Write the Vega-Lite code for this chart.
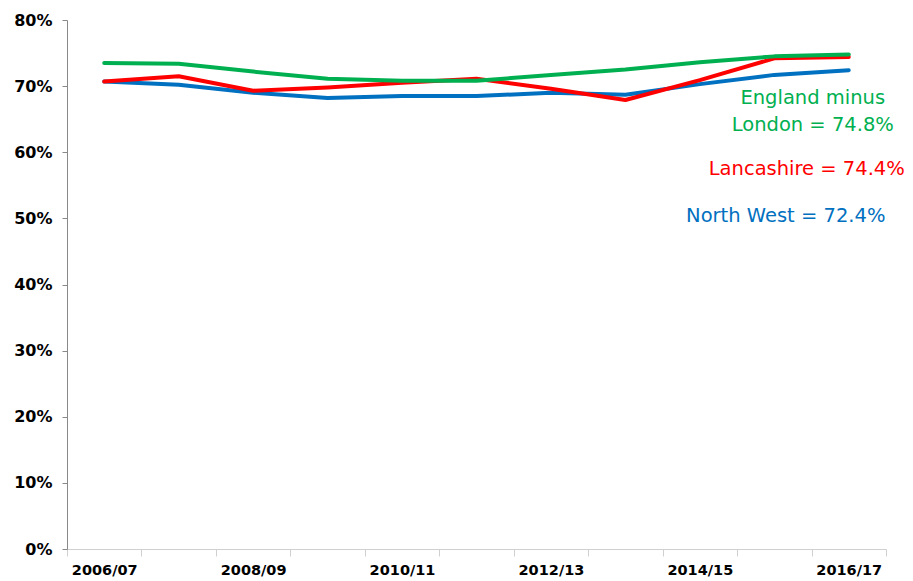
{
  "$schema": "https://vega.github.io/schema/vega-lite/v6.json",
  "width": 819,
  "height": 529,
  "autosize": {"type": "none"},
  "padding": {"left": 67, "top": 20, "right": 27, "bottom": 32},
  "background": "white",
  "title": {
    "text": "Employment rate of all working age (16-64 year olds)",
    "anchor": "start",
    "frame": "bounds",
    "font": "Liberation Sans",
    "fontSize": 26,
    "fontWeight": "bold",
    "color": "black",
    "baseline": "alphabetic",
    "offset": -7,
    "dx": -50,
    "dy": -4
  },
  "config": {"view": {"stroke": null}},
  "data": {
    "values": [
      {"year": "2006/07", "series": "North West", "rate": 0.707},
      {"year": "2007/08", "series": "North West", "rate": 0.702},
      {"year": "2008/09", "series": "North West", "rate": 0.690},
      {"year": "2009/10", "series": "North West", "rate": 0.682},
      {"year": "2010/11", "series": "North West", "rate": 0.685},
      {"year": "2011/12", "series": "North West", "rate": 0.685},
      {"year": "2012/13", "series": "North West", "rate": 0.690},
      {"year": "2013/14", "series": "North West", "rate": 0.687},
      {"year": "2014/15", "series": "North West", "rate": 0.703},
      {"year": "2015/16", "series": "North West", "rate": 0.717},
      {"year": "2016/17", "series": "North West", "rate": 0.724},
      {"year": "2006/07", "series": "Lancashire", "rate": 0.707},
      {"year": "2007/08", "series": "Lancashire", "rate": 0.715},
      {"year": "2008/09", "series": "Lancashire", "rate": 0.693},
      {"year": "2009/10", "series": "Lancashire", "rate": 0.698},
      {"year": "2010/11", "series": "Lancashire", "rate": 0.705},
      {"year": "2011/12", "series": "Lancashire", "rate": 0.711},
      {"year": "2012/13", "series": "Lancashire", "rate": 0.696},
      {"year": "2013/14", "series": "Lancashire", "rate": 0.679},
      {"year": "2014/15", "series": "Lancashire", "rate": 0.709},
      {"year": "2015/16", "series": "Lancashire", "rate": 0.742},
      {"year": "2016/17", "series": "Lancashire", "rate": 0.744},
      {"year": "2006/07", "series": "England minus London", "rate": 0.735},
      {"year": "2007/08", "series": "England minus London", "rate": 0.734},
      {"year": "2008/09", "series": "England minus London", "rate": 0.722},
      {"year": "2009/10", "series": "England minus London", "rate": 0.711},
      {"year": "2010/11", "series": "England minus London", "rate": 0.708},
      {"year": "2011/12", "series": "England minus London", "rate": 0.708},
      {"year": "2012/13", "series": "England minus London", "rate": 0.717},
      {"year": "2013/14", "series": "England minus London", "rate": 0.725},
      {"year": "2014/15", "series": "England minus London", "rate": 0.736},
      {"year": "2015/16", "series": "England minus London", "rate": 0.745},
      {"year": "2016/17", "series": "England minus London", "rate": 0.748}
    ]
  },
  "encoding": {
    "x": {
      "field": "year",
      "type": "ordinal",
      "scale": {"type": "band", "paddingInner": 0, "paddingOuter": 0},
      "axis": {
        "title": null,
        "labelAngle": 0,
        "tickBand": "extent",
        "tickSize": 7,
        "tickColor": "#d0d0d0",
        "domainColor": "#d0d0d0",
        "labelPadding": 7,
        "labelFont": "DejaVu Sans",
        "labelFontSize": 14.5,
        "labelFontWeight": "bold",
        "labelColor": "black",
        "labelOverlap": false,
        "labelExpr": "indexof(['2006/07','2008/09','2010/11','2012/13','2014/15','2016/17'], datum.value) >= 0 ? datum.value : ''"
      }
    },
    "y": {
      "field": "rate",
      "type": "quantitative",
      "scale": {"domain": [0, 0.8]},
      "axis": {
        "title": null,
        "format": ".0%",
        "values": [0, 0.1, 0.2, 0.3, 0.4, 0.5, 0.6, 0.7, 0.8],
        "grid": false,
        "tickSize": 5,
        "labelPadding": 10,
        "domainColor": "#898989",
        "tickColor": "#898989",
        "labelFont": "DejaVu Sans",
        "labelFontSize": 16,
        "labelFontWeight": "bold",
        "labelColor": "black"
      }
    },
    "color": {
      "field": "series",
      "type": "nominal",
      "scale": {
        "domain": ["North West", "Lancashire", "England minus London"],
        "range": ["#0070c0", "#ff0000", "#00b050"]
      },
      "legend": null
    }
  },
  "layer": [
    {
      "mark": {"type": "line", "strokeWidth": 4, "strokeJoin": "round", "strokeCap": "round"}
    },
    {
      "data": {"values": [{"year": "2016/17", "series": "England minus London", "rate": 0.682, "label": ["England minus", "London = 74.8%"]}]},
      "mark": {"type": "text", "font": "DejaVu Sans", "fontSize": 19.5, "align": "center", "baseline": "middle", "lineHeight": 27, "dx": -36},
      "encoding": {"text": {"field": "label"}}
    },
    {
      "data": {"values": [{"year": "2016/17", "series": "Lancashire", "rate": 0.5747, "label": "Lancashire = 74.4%"}]},
      "mark": {"type": "text", "font": "DejaVu Sans", "fontSize": 19.5, "align": "center", "baseline": "middle", "dx": -42},
      "encoding": {"text": {"field": "label"}}
    },
    {
      "data": {"values": [{"year": "2016/17", "series": "North West", "rate": 0.504, "label": "North West = 72.4%"}]},
      "mark": {"type": "text", "font": "DejaVu Sans", "fontSize": 19.5, "align": "center", "baseline": "middle", "dx": -63},
      "encoding": {"text": {"field": "label"}}
    }
  ]
}
